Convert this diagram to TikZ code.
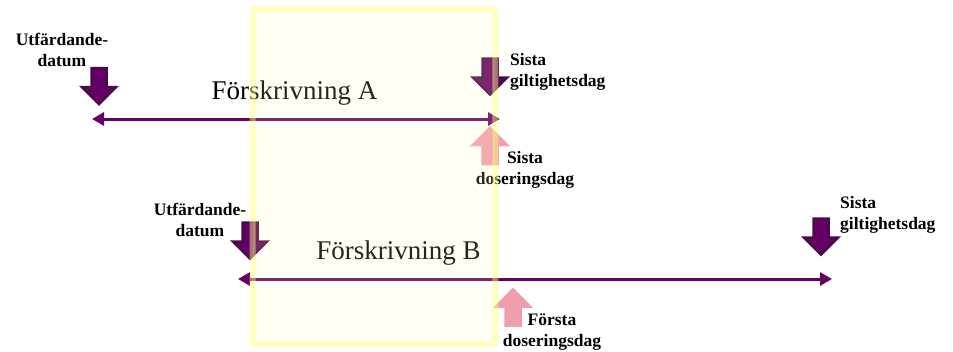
\documentclass[tikz,border=0pt]{standalone}
\usepackage{fontspec}
\setmainfont{Liberation Serif}
\usetikzlibrary{shapes}
\usetikzlibrary{arrows}
\usetikzlibrary{arrows.meta}
\usetikzlibrary{positioning}

\definecolor{lila}{HTML}{660066}
\definecolor{morklila}{HTML}{4A0A48}
\definecolor{rosa}{HTML}{F09EAD}
\definecolor{gul}{HTML}{FFFF80}
\definecolor{ljusgul}{HTML}{FFFFB0}

\tikzset{
  pics/blockpil/.style={code={
    \path[pic actions] (-7.5,-18.5) -- (7.5,-18.5) -- (7.5,0.5) -- (17,0.5)
      -- (0,17.5) -- (-17,0.5) -- (-7.5,0.5) -- cycle;}},
  nedpil/.style={draw=morklila, fill=lila, line width=2.5pt},
  upppil/.style={draw=rosa, fill=rosa, line width=2.5pt, rotate=180},
  tidslinje/.style={lila, line width=3pt,
    {Triangle[length=12pt,width=13pt]}-{Triangle[length=12pt,width=13pt]}},
  etikett/.style={font=\bfseries\fontsize{17.5}{21}\selectfont, inner sep=0pt},
  rubrik/.style={font=\fontsize{27}{30}\selectfont, inner sep=0pt},
  ram/.style={draw=gul, draw opacity=0.45, line width=6pt, fill=ljusgul,
    fill opacity=0.15, rounded corners=2pt}
}

\begin{document}
\begin{tikzpicture}[x=1pt, y=-1pt]
  \useasboundingbox (0,0) rectangle (953,351);

  % tidslinjer
  \coordinate (A0) at (92,119);
  \coordinate (A1) at (500,119);
  \coordinate (B0) at (238,279);
  \coordinate (B1) at (832,279);
  \draw[tidslinje] (A0) -- (A1);
  \draw[tidslinje] (B0) -- (B1);

  % pilar
  \pic[nedpil] (utfpilA) at (99,86.5) {blockpil};
  \pic[nedpil] (giltpilA) at (490,77) {blockpil};
  \pic[upppil] (dospilA) at (490,145.5) {blockpil};
  \pic[nedpil] (utfpilB) at (250,241) {blockpil};
  \pic[upppil] (dospilB) at (513,307) {blockpil};
  \pic[nedpil] (giltpilB) at (821,237) {blockpil};

  % texter
  \node[rubrik, anchor=base] (rubrikA) at (294.5,99) {Förskrivning A};
  \node[rubrik, anchor=base] (rubrikB) at (398.5,259) {Förskrivning B};
  \node[etikett, align=center, anchor=north] (utfA) at (62,33) {Utfärdande-\\datum};
  \node[etikett, align=left, anchor=north west] (giltA) at (510,53) {Sista\\giltighetsdag};
  \node[etikett, align=center, anchor=north] (dosA) at (525,151) {Sista\\doseringsdag};
  \node[etikett, align=center, anchor=north] (utfB) at (200,203) {Utfärdande-\\datum};
  \node[etikett, align=left, anchor=north west] (giltB) at (840,196) {Sista\\giltighetsdag};
  \node[etikett, align=center, anchor=north] (dosB) at (552,314) {Första\\doseringsdag};

  % fönster
  \draw[ram] (252.5,8.7) rectangle (495.3,344);
\end{tikzpicture}
\end{document}
